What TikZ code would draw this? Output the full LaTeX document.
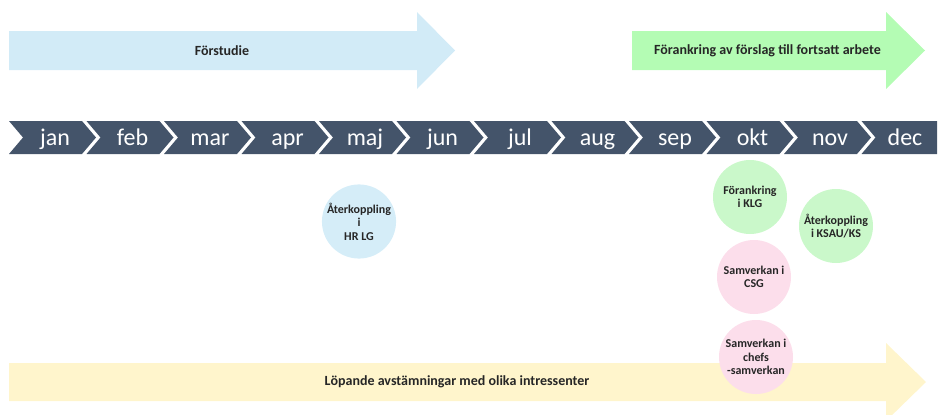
\documentclass[tikz,border=0pt]{standalone}
\usepackage{fontspec}
\setmainfont{Carlito}
\usepackage{tikz}
\usetikzlibrary{positioning}
\definecolor{monthblue}{HTML}{44546A}
\definecolor{studyblue}{HTML}{D2EBF7}
\definecolor{anchorgreen}{HTML}{B4FCB4}
\definecolor{circgreen}{HTML}{CAF8CA}
\definecolor{circpink}{HTML}{FCDEEB}
\definecolor{circblue}{HTML}{D5EDF8}
\definecolor{ongoingyellow}{HTML}{FFF5CC}
\tikzset{
    barlabel/.style={font=\bfseries\fontsize{14}{16}\selectfont,text=black!85},
    monthlabel/.style={font=\fontsize{24}{28}\selectfont,text=white,anchor=base},
    event/.style={circle,minimum size=74pt,inner sep=0pt,align=center,
        font=\bfseries\fontsize{12}{13.5}\selectfont,text=black!85},
}

\begin{document}
\begin{tikzpicture}[x=1pt,y=-1pt]
    \useasboundingbox (0,0) rectangle (938,415);
    % phase arrows
    \fill[studyblue] (9,31) -- (417,31) -- (417,12) -- (455,50.5) -- (417,89) -- (417,70) -- (9,70) -- cycle;
    \node[barlabel] (forstudie) at (222,50.5) {Förstudie};
    \fill[anchorgreen] (632,31) -- (886,31) -- (886,12) -- (925,50.5) -- (886,89) -- (886,70) -- (632,70) -- cycle;
    \node[barlabel] (forankring) at (767.5,50.5) {Förankring av förslag till fortsatt arbete};
    % months
    \foreach \m [count=\i from 0] in {jan,feb,mar,apr,maj,jun,jul,aug,sep,okt,nov,dec}{
        \pgfmathsetmacro\L{9+77.5*\i}
        \ifnum\i<11
            \fill[monthblue] (\L,121) -- ({\L+73},121) -- ({\L+87},137.5) -- ({\L+73},154) -- (\L,154) -- ({\L+14},137.5) -- cycle;
            \node[monthlabel] (\m) at ({\L+46},145.5) {\m};
        \else
            \fill[monthblue] (\L,121) -- (937,121) -- (937,154) -- (\L,154) -- ({\L+14},137.5) -- cycle;
            \node[monthlabel] (\m) at ({\L+43.5},145.5) {\m};
        \fi
    }
    % ongoing
    \fill[ongoingyellow] (9,363) -- (886,363) -- (886,343) -- (926,382) -- (886,421) -- (886,401) -- (9,401) -- cycle;
    \node[barlabel] (lopande) at (457,382) {Löpande avstämningar med olika intressenter};
    % events
    \node[event,fill=circblue] (hrlg) at (359,221.5) {Återkoppling\\i\\HR LG};
    \node[event,fill=circgreen] (klg) at (750,197) {Förankring\\i KLG};
    \node[event,fill=circgreen] (ksau) at (836,226) {Återkoppling\\i KSAU/KS};
    \node[event,fill=circpink] (csg) at (754,277) {Samverkan i\\CSG};
    \node[event,fill=circpink] (chefs) at (756,357) {Samverkan i\\chefs\\-samverkan};
\end{tikzpicture}
\end{document}
